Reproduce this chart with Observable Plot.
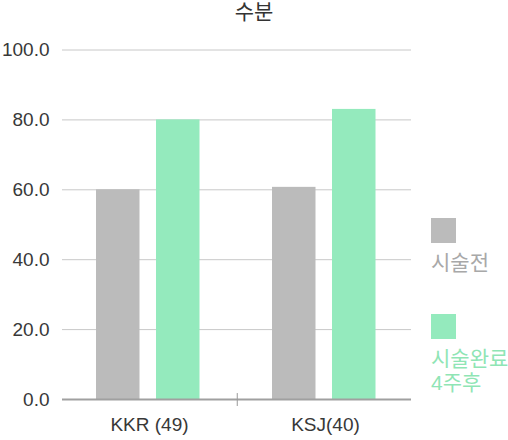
<!DOCTYPE html>
<html>
<head>
<meta charset="utf-8">
<script src="https://cdn.jsdelivr.net/npm/d3@7"></script>
<script src="https://cdn.jsdelivr.net/npm/@observablehq/plot@0.6"></script>
<style>
  html, body { margin: 0; padding: 0; background: #fff; }
  #wrap { position: relative; width: 508px; height: 440px; font-family: "Liberation Sans", "Noto Sans CJK KR", sans-serif; }
  #title { position: absolute; top: 0; left: 0; width: 508px; text-align: center; font-size: 21px; line-height: 24px; color: #333; }
  #chart { position: absolute; top: 30px; left: 0; }
  .leg { position: absolute; left: 431px; font-size: 21px; line-height: 24px; white-space: nowrap; }
  .sw { width: 25px; height: 25px; }
</style>
</head>
<body>
<div id="wrap">
  <div id="title"></div>
  <div id="chart"></div>
  <div class="leg" id="leg0" style="top:218px;"></div>
  <div class="leg" id="leg1" style="top:314px;"></div>
</div>
<script>
const title = "수분";
const groups = ["KKR (49)", "KSJ(40)"];
const seriesNames = ["시술전", "시술완료\n4주후"];
const seriesColors = ["#bbbbbb", "#94eabd"];
const legendTextColors = ["#a8a8a8", "#8fe5b5"];
const beforeValues = [60.0, 60.7];
const afterValues = [80.0, 83.0];
const yTicks = [0, 20, 40, 60, 80, 100];

document.getElementById("title").textContent = title;

const rows = [];
groups.forEach((g, i) => {
  rows.push({group: g, series: seriesNames[0], value: beforeValues[i]});
  rows.push({group: g, series: seriesNames[1], value: afterValues[i]});
});

const chart = Plot.plot({
  width: 508,
  height: 410,
  marginTop: 19.5,
  marginBottom: 41,
  marginLeft: 62,
  marginRight: 97,
  style: {fontFamily: '"Liberation Sans", "Noto Sans CJK KR", sans-serif', fontSize: "19px", color: "#383838", background: "transparent"},
  x: {domain: groups, range: [60, 413], padding: 0, tickSize: 0, tickPadding: 18, label: null},
  y: {domain: [0, 100], ticks: yTicks, tickSize: 0, tickPadding: 13, tickFormat: d3.format(".1f"), label: null},
  marks: [
    Plot.ruleY(yTicks.filter(d => d > 0), {y: d => d, stroke: "#c8c8c8", strokeWidth: 1, strokeOpacity: 1}),
    Plot.barY(rows.filter(d => d.series === seriesNames[0]), {x: "group", y: "value", fill: seriesColors[0], insetLeft: 35, insetRight: 97.5}),
    Plot.barY(rows.filter(d => d.series === seriesNames[1]), {x: "group", y: "value", fill: seriesColors[1], insetLeft: 95, insetRight: 37.5}),
    Plot.ruleY([0], {stroke: "#a0a0a0", strokeWidth: 2}),
    Plot.ruleX([groups[1]], {x: d => d, y1: -2.0, y2: 1.7, stroke: "#999", strokeWidth: 1, dx: -88.25})
  ]
});
document.getElementById("chart").appendChild(chart);

seriesNames.forEach((s, i) => {
  const el = document.getElementById("leg" + i);
  const sw = document.createElement("div");
  sw.className = "sw";
  sw.style.background = seriesColors[i];
  el.appendChild(sw);
  s.split("\n").forEach((line, j) => {
    const t = document.createElement("div");
    t.textContent = line;
    t.style.color = legendTextColors[i];
    t.style.marginTop = j === 0 ? "8px" : "0";
    el.appendChild(t);
  });
});
</script>
</body>
</html>
